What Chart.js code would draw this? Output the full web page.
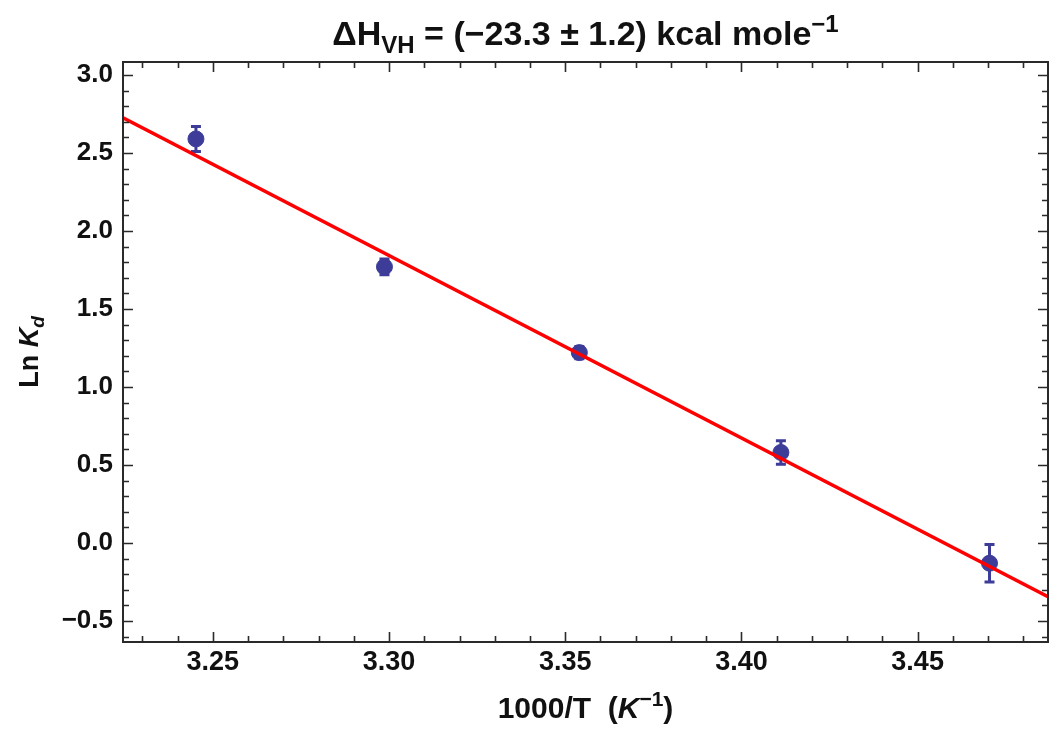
<!DOCTYPE html>
<html>
<head>
<meta charset="utf-8">
<script src="https://cdn.jsdelivr.net/npm/chart.js@4/dist/chart.umd.min.js"></script>
<style>
  html, body { margin: 0; padding: 0; background: #fff; }
  #wrap { width: 1050px; height: 731px; }
</style>
</head>
<body>
<div id="wrap"><canvas id="myChart" width="1050" height="731"></canvas></div>
<script>
'use strict';

// measured points: 1000/T vs ln Kd with error bars
let invTemp = [3.2452, 3.2987, 3.3540, 3.4112, 3.4704];
let lnKd = [2.59, 1.77, 1.22, 0.58, -0.13];
let lnKdErr = [0.08, 0.05, 0.04, 0.075, 0.12];

// fitted van 't Hoff line (end points at the frame edges)
let fitX = [3.2245, 3.487];
let fitY = [2.725, -0.345];

let xTicks = [3.25, 3.30, 3.35, 3.40, 3.45];
let yTicks = [-0.5, 0, 0.5, 1.0, 1.5, 2.0, 2.5, 3.0];

let pointColor = '#3d3d99';
let frameColor = '#2a2a2a';
let fontName = '"Liberation Sans", Arial, sans-serif';

function fmtNum(v, d) {
  return v.toFixed(d).replace('-', '\u2212');
}

// draws a line of text made of pieces with different fonts / offsets
function drawRich(ctx, parts, x, y) {
  let total = 0;
  parts.forEach(function (p) {
    ctx.font = p.font;
    total += ctx.measureText(p.t).width;
  });
  let cx = x - total / 2;
  ctx.textAlign = 'left';
  ctx.textBaseline = 'alphabetic';
  parts.forEach(function (p) {
    ctx.font = p.font;
    ctx.fillText(p.t, cx, y + (p.dy || 0));
    cx += ctx.measureText(p.t).width;
  });
}

let errorBars = {
  id: 'errorBars',
  beforeDatasetsDraw: function (chart) {
    let ctx = chart.ctx;
    let xs = chart.scales.x;
    let ys = chart.scales.y;
    ctx.save();
    ctx.strokeStyle = pointColor;
    ctx.lineWidth = 3;
    for (let i = 0; i < invTemp.length; i++) {
      let px = xs.getPixelForValue(invTemp[i]);
      let top = ys.getPixelForValue(lnKd[i] + lnKdErr[i]);
      let bot = ys.getPixelForValue(lnKd[i] - lnKdErr[i]);
      ctx.beginPath();
      ctx.moveTo(px, top);
      ctx.lineTo(px, bot);
      ctx.moveTo(px - 5, top);
      ctx.lineTo(px + 5, top);
      ctx.moveTo(px - 5, bot);
      ctx.lineTo(px + 5, bot);
      ctx.stroke();
    }
    ctx.restore();
  }
};

let frame = {
  id: 'frame',
  afterDraw: function (chart) {
    let ctx = chart.ctx;
    let a = chart.chartArea;
    let xs = chart.scales.x;
    let ys = chart.scales.y;
    ctx.save();
    ctx.strokeStyle = frameColor;
    ctx.lineWidth = 2;
    ctx.strokeRect(a.left, a.top, a.right - a.left, a.bottom - a.top);

    ctx.lineWidth = 1.6;
    ctx.beginPath();
    // x ticks, every 0.01, major every 0.05
    for (let k = 323; k <= 348; k++) {
      let v = k / 100;
      let px = Math.round(xs.getPixelForValue(v)) + 0.5;
      if (px < a.left || px > a.right) continue;
      let len = (k % 5 === 0) ? 10 : 6;
      ctx.moveTo(px, a.bottom);
      ctx.lineTo(px, a.bottom - len);
      ctx.moveTo(px, a.top);
      ctx.lineTo(px, a.top + len);
    }
    // y ticks, every 0.1, major every 0.5
    for (let k = -6; k <= 30; k++) {
      let v = k / 10;
      let py = Math.round(ys.getPixelForValue(v)) + 0.5;
      if (py < a.top || py > a.bottom) continue;
      let len = (k % 5 === 0) ? 10 : 6;
      ctx.moveTo(a.left, py);
      ctx.lineTo(a.left + len, py);
      ctx.moveTo(a.right, py);
      ctx.lineTo(a.right - len, py);
    }
    ctx.stroke();

    ctx.fillStyle = '#111';
    let mid = (a.left + a.right) / 2;
    // title
    drawRich(ctx, [
      { t: '\u0394H', font: 'bold 34px ' + fontName },
      { t: 'VH', font: 'bold 24px ' + fontName, dy: 8 },
      { t: ' = (\u221223.3 \u00b1 1.2) kcal mole', font: 'bold 34px ' + fontName },
      { t: '\u22121', font: 'bold 24px ' + fontName, dy: -13 }
    ], mid, 45);

    // x axis title
    drawRich(ctx, [
      { t: '1000/T  (', font: 'bold 30px ' + fontName },
      { t: 'K', font: 'italic bold 30px ' + fontName },
      { t: '\u22121', font: 'bold 21px ' + fontName, dy: -12 },
      { t: ')', font: 'bold 30px ' + fontName }
    ], mid, 718);

    // y axis title
    ctx.save();
    ctx.translate(38, (a.top + a.bottom) / 2);
    ctx.rotate(-Math.PI / 2);
    drawRich(ctx, [
      { t: 'Ln ', font: 'bold 27px ' + fontName },
      { t: 'K', font: 'italic bold 27px ' + fontName },
      { t: 'd', font: 'italic bold 19px ' + fontName, dy: 6 }
    ], 0, 0);
    ctx.restore();
    ctx.restore();
  }
};

let points = invTemp.map(function (v, i) { return { x: v, y: lnKd[i] }; });
let fitPoints = fitX.map(function (v, i) { return { x: v, y: fitY[i] }; });

let ctx = document.getElementById('myChart').getContext('2d');
let chart = new Chart(ctx, {
  type: 'scatter',
  data: {
    datasets: [{
      type: 'line',
      label: 'fit',
      data: fitPoints,
      borderColor: '#ff0000',
      borderWidth: 3.5,
      pointRadius: 0,
      fill: false,
      order: 0
    }, {
      label: 'ln Kd',
      data: points,
      backgroundColor: pointColor,
      borderColor: pointColor,
      pointRadius: 8,
      order: 1
    }]
  },
  options: {
    responsive: false,
    animation: false,
    layout: { autoPadding: false, padding: { top: 62, right: 2, left: 0, bottom: 0 } },
    plugins: {
      legend: { display: false },
      tooltip: { enabled: false }
    },
    scales: {
      x: {
        type: 'linear',
        min: 3.2245,
        max: 3.487,
        afterBuildTicks: function (scale) {
          scale.ticks = xTicks.map(function (v) { return { value: v }; });
        },
        afterFit: function (scale) { scale.height = 89; },
        grid: { display: false, drawTicks: false },
        border: { display: false },
        ticks: {
          padding: 4,
          color: '#111',
          font: { family: fontName, size: 27, weight: 'bold' },
          callback: function (v) { return fmtNum(v, 2); }
        }
      },
      y: {
        type: 'linear',
        min: -0.635,
        max: 3.083,
        afterBuildTicks: function (scale) {
          scale.ticks = yTicks.map(function (v) { return { value: v }; });
        },
        afterFit: function (scale) { scale.width = 123; },
        grid: { display: false, drawTicks: false },
        border: { display: false },
        ticks: {
          padding: 10,
          color: '#111',
          font: { family: fontName, size: 26, weight: 'bold' },
          callback: function (v) { return fmtNum(v, 1); }
        }
      }
    }
  },
  plugins: [errorBars, frame]
});
</script>
</body>
</html>
